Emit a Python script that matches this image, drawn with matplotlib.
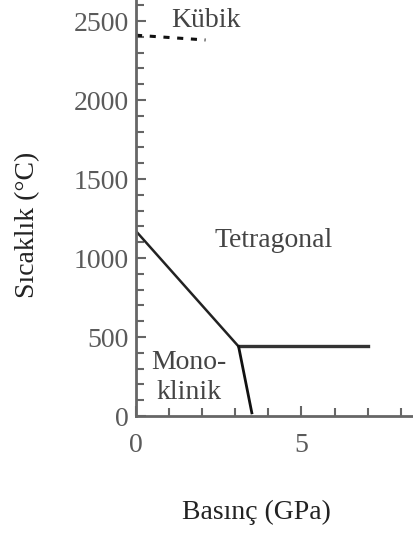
import numpy as np
import matplotlib
matplotlib.use("Agg")
from matplotlib import pyplot as plt
from matplotlib.ticker import MultipleLocator

# phase boundaries (pressure GPa, temperature C)
mono_tet_p = [0, 3.1]
mono_tet_t = [1170, 440]
tet_high_p = [3.1, 7.0]
tet_high_t = [440, 440]
mono_low_p = [3.1, 3.5]
mono_low_t = [440, 20]
cubic_p = [0, 2.1]
cubic_t = [2410, 2380]

plt.rcParams['font.family'] = ['Liberation Serif', 'DejaVu Serif']

fig = plt.figure(figsize=(4.14, 5.35), dpi=100)
ax = fig.add_axes([0.3285, 0.2224, 0.6715, 0.7776])

ax.plot(mono_tet_p, mono_tet_t, color='#222222', lw=1.8)
ax.plot(tet_high_p, tet_high_t, color='#333333', lw=2.4)
ax.plot(mono_low_p, mono_low_t, color='#111111', lw=2.0)
ax.plot(cubic_p, cubic_t, color='#111111', lw=2.2, ls=(0, (2, 2.5)))

ax.text(2.1, 2505, 'Kübik', fontsize=20, color='#444444', ha='center', va='center')
ax.text(4.15, 1110, 'Tetragonal', fontsize=20, color='#444444', ha='center', va='center')
ax.text(1.6, 340, 'Mono-', fontsize=20, color='#444444', ha='center', va='center')
ax.text(1.6, 150, 'klinik', fontsize=20, color='#444444', ha='center', va='center')

ax.set_xlim(0, 8.4)
ax.set_ylim(0, 2633)
ax.set_xticks([0, 5])
ax.set_yticks([0, 500, 1000, 1500, 2000, 2500])
ax.xaxis.set_minor_locator(MultipleLocator(1))
ax.yaxis.set_minor_locator(MultipleLocator(100))

for s in ['top', 'right']:
    ax.spines[s].set_visible(False)
for s in ['left', 'bottom']:
    ax.spines[s].set_color('#666666')
    ax.spines[s].set_linewidth(2)

ax.tick_params(axis='both', which='both', direction='in', colors='#666666',
               labelcolor='#5a5a5a', labelsize=20)
ax.tick_params(which='major', length=7, width=1.5)
ax.tick_params(which='minor', length=6, width=1.5)
ax.tick_params(axis='x', pad=12)
ax.tick_params(axis='y', pad=5)

fig.text(0.066, 0.579, 'Sıcaklık (°C)', rotation=90, fontsize=20,
         ha='center', va='center', color='#222222')
fig.text(0.62, 0.043, 'Basınç (GPa)', fontsize=20, ha='center', va='center',
         color='#222222')

fig.savefig('out.png', dpi=100)
